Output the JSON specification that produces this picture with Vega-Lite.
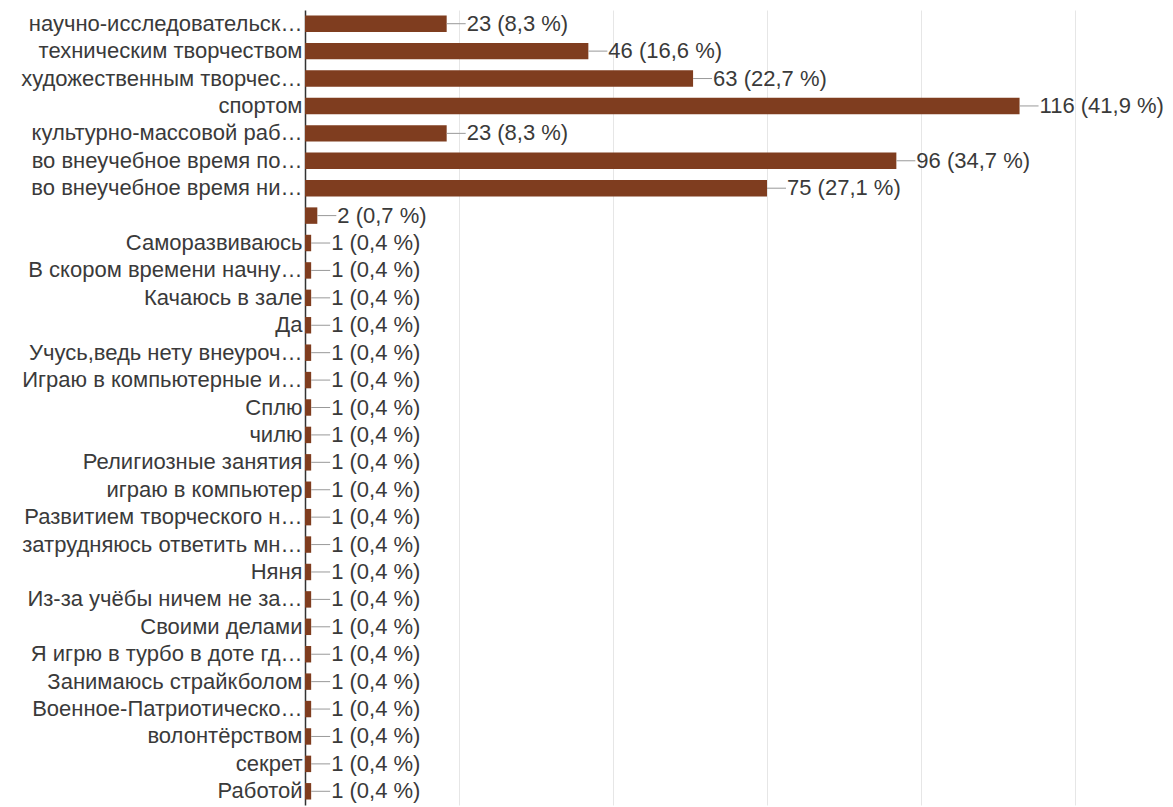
{
  "$schema": "https://vega.github.io/schema/vega-lite/v6.json",
  "width": 770,
  "height": 795,
  "autosize": "none",
  "padding": {"left": 305, "top": 10, "right": 98, "bottom": 2},
  "background": "white",
  "config": {"view": {"stroke": null}, "font": "Liberation Sans", "axis": {"labelFont": "Liberation Sans"}, "text": {"font": "Liberation Sans"}},
  "data": {"values": [
    {"cat": "научно-исследовательск…", "n": 23, "lbl": "23 (8,3 %)"},
    {"cat": "техническим творчеством", "n": 46, "lbl": "46 (16,6 %)"},
    {"cat": "художественным творчес…", "n": 63, "lbl": "63 (22,7 %)"},
    {"cat": "спортом", "n": 116, "lbl": "116 (41,9 %)"},
    {"cat": "культурно-массовой раб…", "n": 23, "lbl": "23 (8,3 %)"},
    {"cat": "во внеучебное время по…", "n": 96, "lbl": "96 (34,7 %)"},
    {"cat": "во внеучебное время ни…", "n": 75, "lbl": "75 (27,1 %)"},
    {"cat": " ", "n": 2, "lbl": "2 (0,7 %)"},
    {"cat": "Саморазвиваюсь", "n": 1, "lbl": "1 (0,4 %)"},
    {"cat": "В скором времени начну…", "n": 1, "lbl": "1 (0,4 %)"},
    {"cat": "Качаюсь в зале", "n": 1, "lbl": "1 (0,4 %)"},
    {"cat": "Да", "n": 1, "lbl": "1 (0,4 %)"},
    {"cat": "Учусь,ведь нету внеуроч…", "n": 1, "lbl": "1 (0,4 %)"},
    {"cat": "Играю в компьютерные и…", "n": 1, "lbl": "1 (0,4 %)"},
    {"cat": "Сплю", "n": 1, "lbl": "1 (0,4 %)"},
    {"cat": "чилю", "n": 1, "lbl": "1 (0,4 %)"},
    {"cat": "Религиозные занятия", "n": 1, "lbl": "1 (0,4 %)"},
    {"cat": "играю в компьютер", "n": 1, "lbl": "1 (0,4 %)"},
    {"cat": "Развитием творческого н…", "n": 1, "lbl": "1 (0,4 %)"},
    {"cat": "затрудняюсь ответить мн…", "n": 1, "lbl": "1 (0,4 %)"},
    {"cat": "Няня", "n": 1, "lbl": "1 (0,4 %)"},
    {"cat": "Из-за учёбы ничем не за…", "n": 1, "lbl": "1 (0,4 %)"},
    {"cat": "Своими делами", "n": 1, "lbl": "1 (0,4 %)"},
    {"cat": "Я игрю в турбо в доте гд…", "n": 1, "lbl": "1 (0,4 %)"},
    {"cat": "Занимаюсь страйкболом", "n": 1, "lbl": "1 (0,4 %)"},
    {"cat": "Военное-Патриотическо…", "n": 1, "lbl": "1 (0,4 %)"},
    {"cat": "волонтёрством", "n": 1, "lbl": "1 (0,4 %)"},
    {"cat": "секрет", "n": 1, "lbl": "1 (0,4 %)"},
    {"cat": "Работой", "n": 1, "lbl": "1 (0,4 %)"}
  ]},
  "encoding": {
    "y": {
      "field": "cat", "type": "nominal", "sort": null,
      "scale": {"paddingInner": 0.4, "paddingOuter": 0.2},
      "axis": {"title": null, "ticks": false, "domain": true, "domainColor": "#333333", "domainWidth": 1.5,
               "labelFont": "Liberation Sans", "labelFontSize": 22, "labelColor": "#3a3a3a", "labelPadding": 3, "labelLimit": 0, "grid": false}
    }
  },
  "layer": [
    {
      "mark": {"type": "bar", "color": "#7f3d1f"},
      "encoding": {
        "x": {"field": "n", "type": "quantitative", "scale": {"domain": [0, 125], "nice": false},
              "axis": {"grid": true, "values": [25, 50, 75, 100, 125], "labels": false, "ticks": false,
                       "domain": false, "title": null, "gridColor": "#e6e6e6"}}
      }
    },
    {
      "mark": {"type": "rule", "color": "#999999", "strokeWidth": 1, "x2Offset": 19},
      "encoding": {
        "x": {"field": "n", "type": "quantitative"},
        "x2": {"field": "n"}
      }
    },
    {
      "mark": {"type": "text", "font": "Liberation Sans", "align": "left", "baseline": "middle", "dx": 20, "fontSize": 22, "color": "#3a3a3a"},
      "encoding": {
        "x": {"field": "n", "type": "quantitative"},
        "text": {"field": "lbl"}
      }
    }
  ]
}
